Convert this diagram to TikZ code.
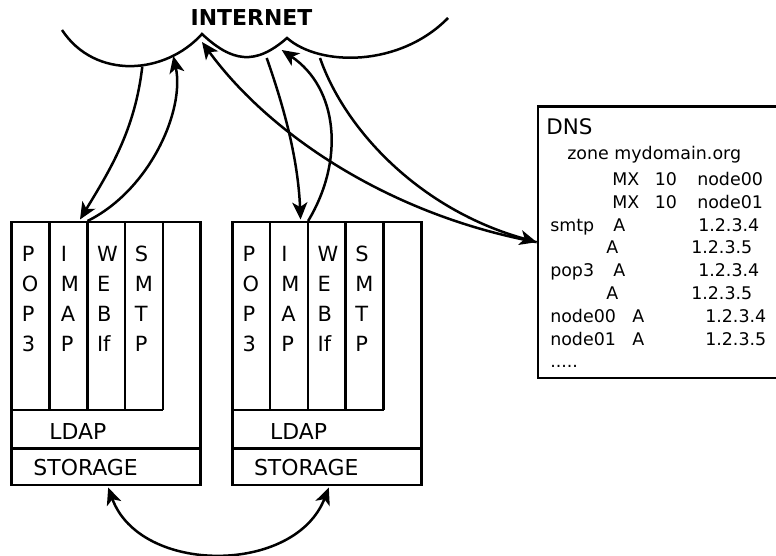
\documentclass[tikz,border=0pt]{standalone}
\usepackage{fontspec}
\setmainfont{DejaVu Sans}
\usetikzlibrary{arrows.meta}
\begin{document}
\begin{tikzpicture}[x=1bp,y=-1bp,
  line width=2.5bp,
  frame/.style={line width=2.6bp},
  head/.tip={Stealth[length=17bp,width=15bp,inset=4.5bp]},
  link/.style={line width=2.5bp,-head},
  svc/.style={anchor=north west,align=left,inner sep=0pt,
    font=\fontsize{21}{30}\selectfont},
  lbl/.style={anchor=base west,inner sep=0pt,font=\fontsize{22}{26}\selectfont},
  dnstxt/.style={anchor=base west,inner sep=0pt,font=\fontsize{17.5}{22}\selectfont}]
\useasboundingbox (0,0) rectangle (776,556);

% the internet as a wavy horizon
\draw[line join=miter] (62,30) .. controls (95,80) and (165,75) .. (202,34)
  .. controls (232,62) and (255,66) .. (287,38)
  .. controls (320,67) and (400,67) .. (448,18);
\node[font=\bfseries\fontsize{22}{26}\selectfont,anchor=base,inner sep=0pt]
  (internet) at (251.5,26) {INTERNET};

% points where the links touch the horizon
\coordinate (net-l1) at (142.3,66.5);
\coordinate (net-l2) at (173.3,56);
\coordinate (net-peak) at (202,42);
\coordinate (net-r1) at (266.7,58);
\coordinate (net-r2) at (281.7,50);
\coordinate (net-r3) at (320,58);

% two mail nodes: services, LDAP and storage
\foreach \b/\x in {l/11.7,r/232.3} {
  \draw[frame] (\x,222) rectangle ++(189,263);
  \draw[frame] (\x,448.3) -- ++(189,0);
  \draw[frame] (\x,410) -- ++(151.2,0);
  \foreach \k in {1,2,3,4}
    \draw[frame] (\x+\k*37.8,222) -- (\x+\k*37.8,410);
  \node[svc] (\b-pop3) at (\x+9,245) {P\\O\\P\\3};
  \node[svc] (\b-imap) at (\x+37.8+10,245) {I\\M\\A\\P};
  \node[svc] (\b-web)  at (\x+75.6+8.5,245) {W\\E\\B\\If};
  \node[svc] (\b-smtp) at (\x+113.4+8.5,245) {S\\M\\T\\P};
  \node[lbl] (\b-ldap) at (\x+36.5,439) {LDAP};
  \node[lbl] (\b-store) at (\x+20.5,475) {STORAGE};
  \coordinate (\b-in) at (\x+68.3,219.5);
  \coordinate (\b-out) at (\x+75.8,221);
  \coordinate (\b-st) at (\x+96.5,487.5);
}

% DNS zone box
\node[draw,frame,anchor=north west,minimum width=241.3bp,minimum height=271.7bp,
  inner sep=0pt] (dns) at (536.7,105) {};
\node[anchor=base west,inner sep=0pt,font=\fontsize{21.5}{26}\selectfont]
  (dns-title) at (545,135) {DNS};
\foreach \t/\px/\py [count=\i] in {
  {zone mydomain.org}/566/160,
  {MX}/611/186, {10}/653.5/186, {node00}/696/186,
  {MX}/611/209, {10}/653.5/209, {node01}/696/209,
  {smtp}/549/231.5, {A}/612/231.5, {1.2.3.4}/697/231.5,
  {A}/605/254, {1.2.3.5}/690/254,
  {pop3}/549/277, {A}/612/277, {1.2.3.4}/697/277,
  {A}/605/299.5, {1.2.3.5}/690/299.5,
  {node00}/549/322, {A}/631/322, {1.2.3.4}/704/322,
  {node01}/549/345, {A}/631/345, {1.2.3.5}/704/345,
  {.....}/549/367.5}
  \node[dnstxt] (dns-t\i) at (\px,\py) {\t};

% links between the internet, the nodes and the DNS
\draw[link] (net-l1) .. controls (135,130) and (110,170) .. (l-in);
\draw[link] (l-out) .. controls (150,190) and (185,110) .. (net-l2);
\draw[link] (dns.west) .. controls (390,215) and (270,135) .. (net-peak);
\draw[link] (net-r3) .. controls (345,130) and (420,210) .. (dns.west);
\draw[link] (net-r1) .. controls (285,110) and (298,160) .. (r-in);
\draw[link] (r-out) .. controls (345,160) and (338,88) .. (net-r2);

% storage replication
\draw[line width=2.5bp,head-head] (l-st) .. controls (140,575) and (295,575) .. (r-st);
\end{tikzpicture}
\end{document}
